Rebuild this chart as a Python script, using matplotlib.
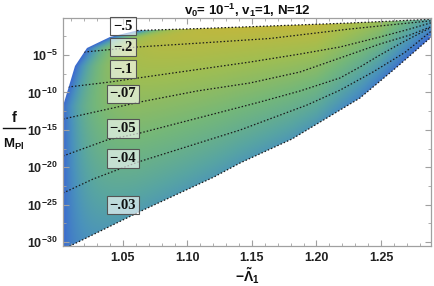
import matplotlib
matplotlib.use('Agg')
import matplotlib.pyplot as plt
import numpy as np
from matplotlib.colors import LinearSegmentedColormap
from matplotlib.patches import Polygon
from matplotlib.ticker import MultipleLocator
from matplotlib.lines import Line2D

plt.rcParams['mathtext.fontset'] = 'custom'
plt.rcParams['mathtext.rm'] = 'Liberation Sans:bold'
plt.rcParams['mathtext.bf'] = 'Liberation Sans:bold'
plt.rcParams['mathtext.it'] = 'Liberation Sans:bold'
plt.rcParams['mathtext.default'] = 'bf'

# contour levels, labels and where the labels sit
level_labels = ["\u2212.5", "\u2212.2", "\u2212.1", "\u2212.07", "\u2212.05", "\u2212.04", "\u2212.03"]
label_x = [1.05, 1.05, 1.05, 1.05, 1.05, 1.05, 1.05]
label_logf = [-1.12, -3.93, -6.87, -10.21, -14.8, -18.8, -25.05]

# contour lines (x = -Lambda_1, y = log10 f/M_Pl)
contour_x = [
    [1.0609, 1.1097, 1.1639, 1.2259, 1.289],
    [1.0198, 1.0609, 1.1097, 1.1639, 1.2259, 1.289],
    [1.0074, 1.0399, 1.0864, 1.1484, 1.1872, 1.2182, 1.2492, 1.2724, 1.289],
    [1.0035, 1.0632, 1.1074, 1.1484, 1.1872, 1.2182, 1.2492, 1.2724, 1.289],
    [1.0035, 1.0376, 1.0632, 1.1562, 1.1872, 1.2182, 1.2337, 1.2492, 1.2686, 1.289],
    [1.0035, 1.0268, 1.0616, 1.1407, 1.1926, 1.2182, 1.2438, 1.2686, 1.289],
    [1.0012, 1.0105, 1.0624, 1.1205, 1.1407, 1.1810, 1.2337, 1.2624, 1.289],
]
contour_logf = [
    [-1.72, -1.46, -1.12, -0.72, -0.22],
    [-4.60, -3.93, -3.40, -2.79, -1.52, -0.42],
    [-9.28, -8.61, -7.46, -5.94, -4.87, -3.93, -2.59, -1.52, -0.68],
    [-13.56, -11.28, -9.81, -8.74, -7.27, -5.40, -3.53, -2.33, -1.20],
    [-18.50, -16.36, -15.43, -11.28, -9.81, -8.07, -6.60, -5.0, -3.13, -1.30],
    [-23.45, -21.58, -19.31, -15.03, -11.69, -9.70, -7.27, -4.65, -1.80],
    [-31.21, -30.40, -25.99, -21.31, -19.44, -16.23, -10.75, -6.60, -2.60],
]

# upper-left edge of the allowed region
edge_x = [1.0035, 1.0128, 1.0221, 1.0399]
edge_logf = [-11.82, -6.47, -4.06, -2.59]

xmin, xmax = 1.0035, 1.2888
ymin, ymax = -30.53, -0.05

fig = plt.figure(figsize=(4.34, 2.86), dpi=100)
ax = fig.add_axes([63 / 434, 1 - 246 / 286, 368 / 434, 228 / 286])

top_x, top_y = contour_x[0], contour_logf[0]
bot_x, bot_y = contour_x[-1], contour_logf[-1]
verts = list(zip(edge_x, edge_logf)) + list(zip(top_x, top_y)) + list(zip(bot_x, bot_y))[::-1]
region = Polygon(verts, closed=True, facecolor='none', edgecolor='none')
ax.add_patch(region)

# shading of the region
cmap = LinearSegmentedColormap.from_list('bgy', [
    (0.0, '#3a66d2'), (0.3, '#4a92bc'), (0.45, '#58a5a2'),
    (0.65, '#74b77a'), (0.85, '#a0be52'), (1.0, '#c0b83e')])
gx = np.linspace(1.0, 1.29, 400)
gy = np.linspace(-31.5, 0, 400)
X, Y = np.meshgrid(gx, gy)
ybot = np.interp(X, bot_x, bot_y)
ytop = np.interp(X, top_x, top_y)
t = np.clip((Y - ybot) / (ytop - ybot), 0, 1)
s_low = np.interp(X, [1.0, 1.2, 1.289], [0.38, 0.33, 0.0])
s_high = np.interp(X, [1.0, 1.06, 1.2, 1.25, 1.289], [0.88, 1.0, 1.0, 0.82, 0.42])
S = s_low + (s_high - s_low) * t ** 0.85
x_left = np.interp(Y, edge_logf + [top_y[0]], edge_x + [top_x[0]])
L = 1 - np.exp(-(X - x_left) / 0.013)
S = 0.03 + (S - 0.03) * np.clip(L, 0, 1)
im = ax.imshow(S, extent=[gx[0], gx[-1], gy[0], gy[-1]], origin='lower',
               aspect='auto', cmap=cmap, vmin=0, vmax=1, interpolation='bilinear')
im.set_clip_path(region)

for i, (cx, cy) in enumerate(zip(contour_x, contour_logf)):
    ln, = ax.plot(cx, cy, color='#1a1a1a', lw=0.9, ls=(0, (1.2, 1.6)))
    if 0 < i < len(contour_x) - 1:
        ln.set_clip_path(region)

for lab, lx, ly in zip(level_labels, label_x, label_logf):
    ax.text(lx, ly, lab, ha='center', va='center', fontsize=10.5,
            family='Liberation Serif', weight='bold', color='#111',
            bbox=dict(boxstyle='square,pad=0.2', fc=(1, 1, 1, 0.62), ec='#555', lw=0.8))

ax.set_xlim(xmin, xmax)
ax.set_ylim(ymin, ymax)
ax.xaxis.set_major_locator(MultipleLocator(0.05))
ax.xaxis.set_minor_locator(MultipleLocator(0.01))
ax.set_yticks([-30, -25, -20, -15, -10, -5])
ax.set_yticklabels([r'$10^{%d}$' % v for v in [-30, -25, -20, -15, -10, -5]])
ax.yaxis.set_minor_locator(MultipleLocator(2.5))
ax.set_xticklabels(['%.2f' % v for v in ax.get_xticks()])
ax.set_xlim(xmin, xmax)
for lbl in ax.get_xticklabels() + ax.get_yticklabels():
    lbl.set_family('Liberation Sans')
    lbl.set_weight('bold')
    lbl.set_fontsize(9)
    lbl.set_color('#222')
ax.tick_params(which='both', direction='in', top=True, right=True, color='#a0a0a0')
ax.tick_params(which='major', length=4, width=0.8, pad=4)
ax.tick_params(which='minor', length=2.5, width=0.6)
for sp in ax.spines.values():
    sp.set_color('#a0a0a0')
    sp.set_linewidth(0.9)

fig.text(247 / 434, 1 - 10 / 286, r'v$_0$= 10$^{-1}$, v$_1$=1, N=12', ha='center', va='center',
         fontsize=9.5, family='Liberation Sans', weight='bold', color='#111')
fig.text(247 / 434, 1 - 276 / 286, r'$-\tilde{\Lambda}_1$', ha='center', va='center',
         fontsize=10, color='#111')
fig.text(14 / 434, 1 - 118 / 286, 'f', ha='center', va='center',
         fontsize=10.5, family='Liberation Sans', weight='bold', color='#111')
fig.add_artist(Line2D([3 / 434, 25 / 434], [1 - 128 / 286, 1 - 128 / 286], color='#111', lw=1.0))
fig.text(14 / 434, 1 - 144 / 286, r'M$_{\rm Pl}$', ha='center', va='center',
         fontsize=9.5, family='Liberation Sans', weight='bold', color='#111')

fig.savefig('out.png', dpi=100)
